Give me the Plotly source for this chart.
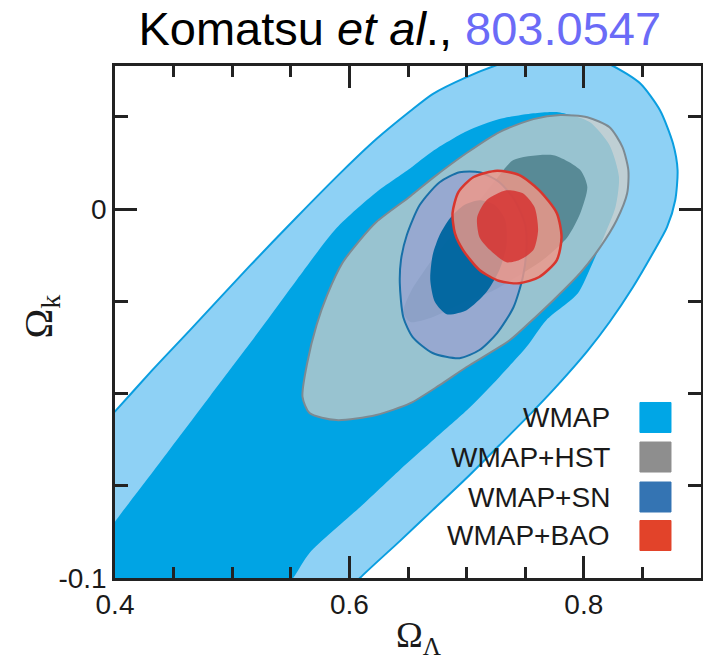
import plotly.graph_objects as go

# ---- data (in axis units: Omega_Lambda, Omega_k) ----
wmap95_x = [0.353, 0.353, 0.401, 0.432, 0.464, 0.515, 0.555, 0.594, 0.623, 0.652, 0.671, 0.700, 0.728, 0.754,
            0.780, 0.805, 0.825, 0.848, 0.865, 0.876, 0.880, 0.878, 0.871, 0.859, 0.842, 0.822, 0.803, 0.780,
            0.757, 0.728, 0.700, 0.671, 0.643, 0.609, 0.592]
wmap95_y = [-0.106, -0.0713, -0.0545, -0.0436, -0.0328, -0.0154, -0.0022, 0.0103, 0.0190, 0.0266, 0.0312,
            0.0358, 0.0393, 0.0417, 0.0425, 0.0412, 0.0388, 0.0341, 0.0268, 0.0179, 0.0106, 0.0024, -0.0049,
            -0.0119, -0.0211, -0.0306, -0.0385, -0.0469, -0.0547, -0.0640, -0.0729, -0.0816, -0.0900,
            -0.100, -0.106]

wmap68_x = [0.353, 0.401, 0.438, 0.481, 0.528, 0.555, 0.589, 0.623, 0.652, 0.671, 0.700, 0.728, 0.757, 0.777,
            0.805, 0.822, 0.830, 0.827, 0.817, 0.806, 0.795, 0.768, 0.751, 0.728, 0.702, 0.673, 0.643, 0.609,
            0.566, 0.552, 0.536]
wmap68_y = [-0.106, -0.0843, -0.0688, -0.0507, -0.0309, -0.0192, -0.0051, 0.0046, 0.0111, 0.0157, 0.0211,
            0.0244, 0.0260, 0.0263, 0.0236, 0.0173, 0.0087, 0.0005, -0.0076, -0.0157, -0.0228, -0.0301,
            -0.0374, -0.0455, -0.0540, -0.0622, -0.0707, -0.0808, -0.0932, -0.100, -0.106]

hst95_x = [0.560, 0.564, 0.572, 0.581, 0.594, 0.609, 0.623, 0.652, 0.671, 0.700, 0.728, 0.757, 0.780, 0.803,
           0.822, 0.833, 0.838, 0.837, 0.828, 0.814, 0.797, 0.774, 0.758, 0.737, 0.700, 0.677, 0.652, 0.623,
           0.589, 0.566]
hst95_y = [-0.0509, -0.0417, -0.0314, -0.0233, -0.0146, -0.0084, -0.0035, 0.0035, 0.0084, 0.0152, 0.0209,
           0.0244, 0.0255, 0.0249, 0.0222, 0.0168, 0.0106, 0.0043, -0.0030, -0.0103, -0.0173, -0.0247,
           -0.0295, -0.0355, -0.0428, -0.0477, -0.0526, -0.0558, -0.0572, -0.0553]

hst68_x = [0.726, 0.740, 0.774, 0.797, 0.803, 0.797, 0.786, 0.765, 0.741, 0.720, 0.694, 0.669, 0.652, 0.646,
           0.653, 0.669, 0.690, 0.711]
hst68_y = [0.0084, 0.0133, 0.0146, 0.0106, 0.0060, -0.0011, -0.0076, -0.0138, -0.0187, -0.0225, -0.0260,
           -0.0295, -0.0306, -0.0279, -0.0220, -0.0144, -0.0057, 0.0024]

sn95_x = [0.643, 0.646, 0.654, 0.671, 0.694, 0.711, 0.726, 0.740, 0.748, 0.751, 0.750, 0.741, 0.728, 0.711,
          0.694, 0.677, 0.660, 0.649, 0.644]
sn95_y = [-0.0201, -0.0293, -0.0347, -0.0390, -0.0404, -0.0382, -0.0336, -0.0266, -0.0184, -0.0111, -0.0043,
          0.0024, 0.0073, 0.0100, 0.0100, 0.0073, 0.0011, -0.0070, -0.0138]

sn68_x = [0.669, 0.671, 0.677, 0.686, 0.698, 0.711, 0.724, 0.733, 0.734, 0.728, 0.717, 0.700, 0.683, 0.673]
sn68_y = [-0.0192, -0.0125, -0.0070, -0.0024, 0.0011, 0.0024, 0.0011, -0.0030, -0.0098, -0.0165, -0.0225,
          -0.0274, -0.0285, -0.0252]

bao95_x = [0.688, 0.693, 0.706, 0.726, 0.745, 0.762, 0.777, 0.781, 0.777, 0.762, 0.745, 0.728, 0.711, 0.697,
           0.690]
bao95_y = [-0.0011, 0.0046, 0.0087, 0.0104, 0.0092, 0.0051, -0.0011, -0.0076, -0.0138, -0.0184, -0.0201,
           -0.0195, -0.0165, -0.0111, -0.0065]

bao68_x = [0.709, 0.717, 0.734, 0.748, 0.758, 0.761, 0.757, 0.745, 0.734, 0.720, 0.711]
bao68_y = [-0.0022, 0.0024, 0.0051, 0.0043, 0.0005, -0.0057, -0.0111, -0.0138, -0.0144, -0.0111, -0.0076]

legend_labels = ["WMAP", "WMAP+HST", "WMAP+SN", "WMAP+BAO"]
legend_colors = ["#00A6E6", "#8E8E8E", "#3474B3", "#E2432A"]

x_range = [0.4, 0.9]
y_range = [-0.1, 0.0388]
x_tickvals = [0.4, 0.6, 0.8]
x_ticktext = ["0.4", "0.6", "0.8"]
y_tickvals = [-0.1, 0.0]
y_ticktext = ["-0.1", "0"]


def closed(xs, ys):
    return list(xs) + [xs[0]], list(ys) + [ys[0]]


fig = go.Figure()


def region(xs, ys, fill, line_color=None, line_width=0.0):
    cx, cy = closed(xs, ys)
    fig.add_trace(go.Scatter(
        x=cx, y=cy, mode="lines", fill="toself", fillcolor=fill,
        line=dict(color=line_color or "rgba(0,0,0,0)", width=line_width, shape="spline", smoothing=0.7),
        hoverinfo="skip", showlegend=False))


region(wmap95_x, wmap95_y, "#8ED1F5", "#0A9EE0", 2)
region(wmap68_x, wmap68_y, "#00A4E4")
region(hst95_x, hst95_y, "rgba(211,207,200,0.72)", "rgb(125,138,146)", 2)
region(hst68_x, hst68_y, "#588A96")
region(sn95_x, sn95_y, "rgba(150,165,208,0.85)", "#1870A8", 2)
region(sn68_x, sn68_y, "rgba(0,102,160,0.97)")
region(bao95_x, bao95_y, "rgba(240,151,135,0.82)", "#D8362E", 2.5)
region(bao68_x, bao68_y, "rgba(214,48,46,0.82)")

# legend (text on the left, colour swatch on the right)
row_y = [0.3135, 0.2363, 0.1582, 0.083]
for lab, col, yy in zip(legend_labels, legend_colors, row_y):
    fig.add_annotation(x=0.848, y=yy, xref="paper", yref="paper", text=lab, showarrow=False,
                       xanchor="right", yanchor="middle",
                       font=dict(family="Liberation Sans, Arial", size=28, color="#1a1a1a"))
    fig.add_shape(type="rect", xref="paper", yref="paper", x0=0.8958, x1=0.9488,
                  y0=yy - 0.0293, y1=yy + 0.0293, fillcolor=col, line=dict(color=col, width=1))

# axis titles
fig.add_annotation(x=0.518, y=-0.068, xref="paper", yref="paper", text="Ω<sub>Λ</sub>", showarrow=False,
                   xanchor="center", yanchor="top",
                   font=dict(family="Liberation Serif, Times New Roman", size=36, color="#1a1a1a"))
fig.add_annotation(x=-0.127, y=0.51, xref="paper", yref="paper", text="Ω<sub>k</sub>", showarrow=False,
                   textangle=-90, xanchor="center", yanchor="middle",
                   font=dict(family="Liberation Serif, Times New Roman", size=40, color="#1a1a1a"))

axis_common = dict(showline=True, linecolor="#222", linewidth=2.5, mirror="ticks", ticks="inside",
                   tickcolor="#222", tickwidth=2.5, showgrid=False, zeroline=False, automargin=False,
                   tickfont=dict(family="Liberation Sans, Arial", size=28, color="#1a1a1a"))

fig.update_layout(
    width=703, height=662,
    margin=dict(l=115, r=2, t=66, b=84, autoexpand=False),
    paper_bgcolor="white", plot_bgcolor="white",
    title=dict(text="Komatsu <i>et al</i>., <span style='color:#6B6BF7'>803.0547</span>",
               x=0.486, xref="paper", xanchor="center", y=0.957, yref="container", yanchor="middle",
               font=dict(family="Liberation Sans, Arial", size=47, color="black")),
    xaxis=dict(range=x_range, tickmode="array", tickvals=x_tickvals, ticktext=x_ticktext, ticklen=22,
               minor=dict(dtick=0.05, tick0=0.4, ticks="inside", ticklen=11, tickcolor="#222", tickwidth=2.5),
               **axis_common),
    yaxis=dict(range=y_range, tickmode="array", tickvals=y_tickvals, ticktext=y_ticktext, ticklen=22,
               minor=dict(dtick=0.025, tick0=0, ticks="inside", ticklen=13, tickcolor="#222", tickwidth=2.5),
               **axis_common),
)

fig.write_html("out.html")
